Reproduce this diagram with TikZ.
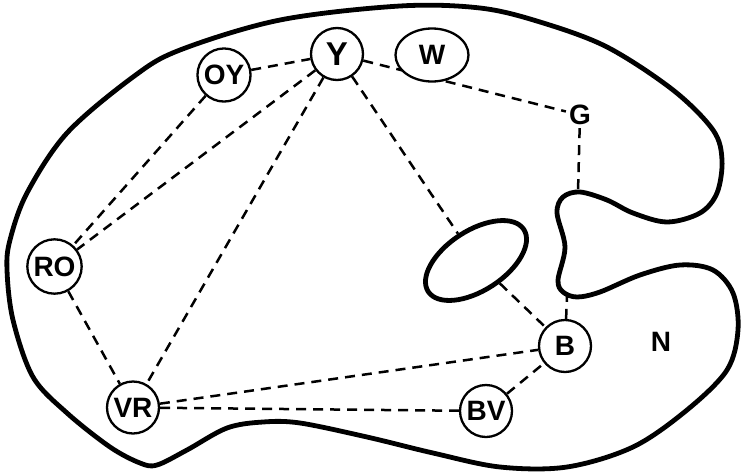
\documentclass[tikz,border=0pt]{standalone}
\usepackage{fontspec}
\setmainfont{Liberation Sans}
\usetikzlibrary{shapes.geometric,backgrounds}
\begin{document}
\begin{tikzpicture}[x=1pt,y=-1pt,
  lbl/.style={font=\fontsize{28}{28}\selectfont\bfseries, inner sep=3pt},
  st/.style={draw, circle, line width=2.3pt, minimum size=52pt, inner sep=0pt, fill=white, lbl},
  link/.style={line width=2.5pt, dash pattern=on 10pt off 7pt},
  wall/.style={line width=4.8pt, line join=round}]
\useasboundingbox (0,0) rectangle (741,474);
% nodes
\node[st, font=\fontsize{33}{33}\selectfont\bfseries] (Y) at (337,54) {Y};
\node[st, ellipse, minimum width=73pt, minimum height=53pt] (W) at (432,55) {W};
\node[st] (OY) at (224,75) {OY};
\node[st] (RO) at (54.5,266.5) {RO};
\node[st] (VR) at (133,407.5) {VR};
\node[st] (BV) at (486,411) {BV};
\node[st] (B) at (565,346) {B};
\node[lbl] (G) at (580,115) {G};
\node[lbl] (N) at (661,342) {N};
\node[draw, ellipse, line width=4.8pt, rotate=33, minimum width=114pt, minimum height=60pt, inner sep=0pt] (hole) at (476,260.5) {};
\coordinate (neckT) at (578,192);
\coordinate (neckB) at (567,296);
\begin{pgfonlayer}{background}
\draw[wall] plot[smooth cycle, tension=0.55] coordinates {
 (180,50) (280,20) (400,6) (480,8) (540,22) (607,47) (673,90) (713,130)
 (722,160) (717,193) (700,213) (667,222) (633,213) (607,200) (580,192)
 (563,197) (557,213) (565,247) (558,280) (563,292) (577,297) (600,292)
 (640,275) (680,265) (713,270) (733,293) (738,330) (727,370) (687,410)
 (633,447) (567,467) (500,467) (433,453) (367,437) (300,423) (263,422)
 (227,428) (187,450) (157,465) (140,463) (110,447) (67,413) (33,377)
 (13,320) (7,270) (10,240) (27,193) (67,133) (133,77)};
\draw[link] (OY) -- (Y);
\draw[link] (OY) -- (RO);
\draw[link] (Y) -- (RO);
\draw[link] (Y) -- (VR);
\draw[link] (Y) -- (G);
\draw[link] (G) -- (neckT);
\draw[link] (Y) -- (hole);
\draw[link] (hole) -- (B);
\draw[link] (B) -- (neckB);
\draw[link] (RO) -- (VR);
\draw[link] (VR) -- (B);
\draw[link] (VR) -- (BV);
\draw[link] (BV) -- (B);
\end{pgfonlayer}
\end{tikzpicture}
\end{document}
